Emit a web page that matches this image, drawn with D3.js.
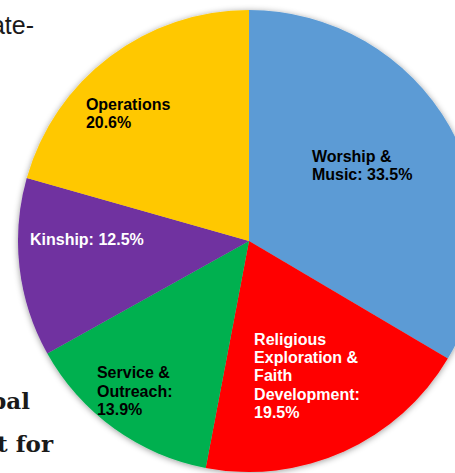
<!DOCTYPE html>
<html><head><meta charset="utf-8">
<script src="https://cdn.jsdelivr.net/npm/d3@7"></script>
<style>html,body{margin:0;padding:0;background:#fff;overflow:hidden}</style>
</head><body><svg id="c" width="455" height="473"></svg>
<script>
// ---- data ----
const categories = ["Worship & Music", "Religious Exploration & Faith Development", "Service & Outreach", "Kinship", "Operations"];
const values = [33.5, 19.5, 13.9, 12.5, 20.6];
const labelLines = [
  ["Worship &", "Music: 33.5%"],
  ["Religious", "Exploration &", "Faith", "Development:", "19.5%"],
  ["Service &", "Outreach:", "13.9%"],
  ["Kinship: 12.5%"],
  ["Operations", "20.6%"]
];
const colors = ["#5B9BD5", "#FF0000", "#00B050", "#7030A0", "#FFC800"];
const labelColors = ["#000000", "#FFFFFF", "#000000", "#FFFFFF", "#000000"];
// label placement: [fraction of radius, angle nudge in degrees from slice mid-angle]
const labelPlacement = [[0.59, -4.2], [0.635, 1.0], [0.816, 1.5], [0.702, 7.3], [0.762, -6.3]];

// ---- layout ----
const W = 455, H = 473;
const cx = 249, cy = 241, R = 231;
const fontSize = 16, lineH = 18.3, capH = 0.716 * fontSize;

const svg = d3.select("#c");
svg.append("rect").attr("width", W).attr("height", H).attr("fill", "#fff");

// background page text fragments (cut off at the edge, as in the reference)
svg.append("text").attr("x", 34).attr("y", 34).attr("text-anchor", "end")
  .attr("font-family", "Liberation Sans, Arial, sans-serif").attr("font-size", 25).attr("fill", "#1a1a1a")
  .text("ate-");
svg.append("text").attr("x", 30).attr("y", 409).attr("text-anchor", "end")
  .attr("font-family", "DejaVu Serif, serif").attr("font-weight", "bold").attr("font-size", 23).attr("fill", "#1a1a1a")
  .text("bal");
svg.append("text").attr("x", 53).attr("y", 452).attr("text-anchor", "end")
  .attr("font-family", "DejaVu Serif, serif").attr("font-weight", "bold").attr("font-size", 23).attr("fill", "#1a1a1a")
  .text("t for");

const defs = svg.append("defs");
const f = defs.append("filter").attr("id", "sh").attr("x", "-10%").attr("y", "-10%").attr("width", "120%").attr("height", "120%");
f.append("feDropShadow").attr("dx", 0).attr("dy", 1).attr("stdDeviation", 3).attr("flood-color", "#000").attr("flood-opacity", 0.4);

const pie = d3.pie().sort(null).value(d => d)(values);
const arc = d3.arc().innerRadius(0).outerRadius(R);

const g = svg.append("g").attr("transform", `translate(${cx},${cy})`);
g.append("g").attr("filter", "url(#sh)")
  .selectAll("path").data(pie).join("path")
  .attr("d", arc).attr("fill", (d, i) => colors[i]);

const lg = g.append("g");
pie.forEach((d, i) => {
  const [frac, nudge] = labelPlacement[i];
  const a = (d.startAngle + d.endAngle) / 2 + nudge * Math.PI / 180;
  const px = Math.sin(a) * R * frac, py = -Math.cos(a) * R * frac;
  const lines = labelLines[i];
  const t = lg.append("text")
    .attr("font-family", "Liberation Sans, Arial, sans-serif")
    .attr("font-weight", "bold").attr("font-size", fontSize)
    .attr("fill", labelColors[i]);
  const spans = lines.map((ln, k) => t.append("tspan").text(ln));
  const w = d3.max(spans, s => s.node().getComputedTextLength());
  const left = px - w / 2;
  const firstBase = py - (lines.length - 1) * lineH / 2 + capH / 2;
  spans.forEach((s, k) => s.attr("x", left).attr("y", firstBase + k * lineH));
});
</script></body></html>
